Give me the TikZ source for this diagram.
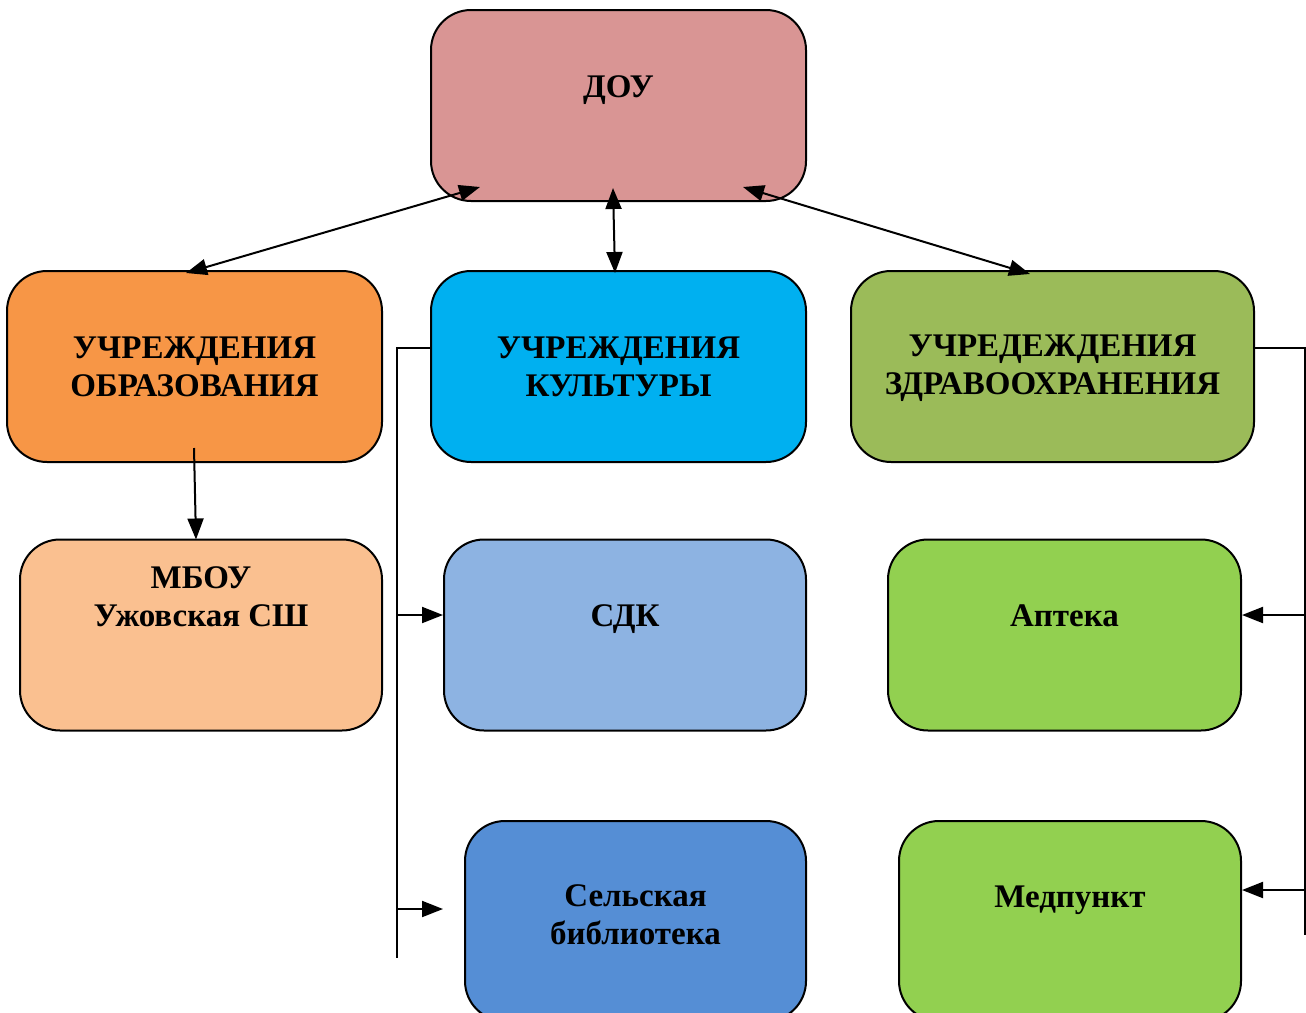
\documentclass[tikz,border=0pt]{standalone}
\usepackage{fontspec}
\setmainfont{Liberation Serif}
\usetikzlibrary{arrows.meta,positioning}
\definecolor{dourose}{HTML}{D99594}
\definecolor{eduorange}{HTML}{F79646}
\definecolor{cultblue}{HTML}{00B0F0}
\definecolor{healthgreen}{HTML}{9BBB59}
\definecolor{schoolpeach}{HTML}{FAC090}
\definecolor{sdkblue}{HTML}{8DB3E2}
\definecolor{libblue}{HTML}{558ED5}
\definecolor{medgreen}{HTML}{92D050}
\tikzset{
    block/.style={
                draw=black,
                line width=1pt,
                rounded corners=20pt,
                inner sep=0pt,
                minimum height=95.5pt
            },
        caption/.style={
                font=\bfseries\fontsize{16.5}{19}\selectfont,
                align=center,
                text=black
            },
        link/.style={
                line width=1pt,
                -{Triangle[length=10.5pt,width=8pt]}
            },
        twolink/.style={
                line width=1pt,
                {Triangle[length=10.5pt,width=8pt]}-{Triangle[length=10.5pt,width=8pt]}
            },
        bus/.style={line width=0.7pt},
}
\begin{document}
\begin{tikzpicture}[x=0.5pt,y=-0.5pt]
  \useasboundingbox (0,0) rectangle (1306,1012);
  % Top
  \node[block,fill=dourose,minimum width=187.5pt,
    label={[caption,yshift=7.5pt]center:ДОУ}] (dou) at (618.5,105.5) {};
  % Groups
  \node[block,fill=eduorange,minimum width=187.5pt,
    label={[caption,yshift=0pt]center:{УЧРЕЖДЕНИЯ\\ОБРАЗОВАНИЯ}}] (obr) at (194.5,366.5) {};
  \node[block,fill=cultblue,minimum width=187.5pt,
    label={[caption,yshift=0pt]center:{УЧРЕЖДЕНИЯ\\КУЛЬТУРЫ}}] (kult) at (618.5,366.5) {};
  \node[block,fill=healthgreen,minimum width=201.5pt,
    label={[caption,yshift=-1pt]center:{УЧРЕДЕЖДЕНИЯ\\ЗДРАВООХРАНЕНИЯ}}] (zdr) at (1052.5,366.5) {};
  % Members
  \node[block,fill=schoolpeach,minimum width=181pt,
    label={[caption,yshift=19pt]center:{МБОУ\\Ужовская СШ}}] (mbou) at (201,635) {};
  \node[block,fill=sdkblue,minimum width=181pt,
    label={[caption,yshift=8pt]center:СДК}] (sdk) at (625,635) {};
  \node[block,fill=medgreen,minimum width=176.5pt,
    label={[caption,yshift=9.5pt]center:Аптека}] (apt) at (1064.5,635) {};
  \node[block,fill=libblue,minimum width=170.5pt,minimum height=100pt,
    label={[caption,yshift=3pt]center:{Сельская\\библиотека}}] (bibl) at (635.5,921) {};
  \node[block,fill=medgreen,minimum width=171pt,minimum height=100pt,
    label={[caption,yshift=10.5pt]center:Медпункт}] (med) at (1070,921) {};
  % Links from the top
  \draw[twolink] ([shift={(-69.25pt,7.5pt)}]dou.south) -- ([shift={(-4.25pt,-1.5pt)}]obr.north);
  \draw[twolink] ([shift={(-2.75pt,7pt)}]dou.south) -- ([shift={(-1.75pt,-1.5pt)}]kult.north);
  \draw[twolink] ([shift={(62.25pt,7.5pt)}]dou.south) -- ([shift={(-11.25pt,-2pt)}]zdr.north);
  \draw[link] ([shift={(-0.25pt,7.5pt)}]obr.south) -- ([shift={(-2.5pt,-0.5pt)}]mbou.north);
  % Left bus
  \coordinate (lbus) at (397,958);
  \draw[bus] ([yshift=9.25pt]kult.west) -| (lbus);
  \draw[link] ([yshift=10pt]sdk.west -| lbus) -- ([yshift=10pt]sdk.west);
  \draw[link] ([yshift=6pt]bibl.west -| lbus) -- ([shift={(-10.5pt,6pt)}]bibl.west);
  % Right bus
  \coordinate (rbus) at (1305,935);
  \draw[bus] ([yshift=9.25pt]zdr.east) -| (rbus);
  \draw[link] ([yshift=10pt]apt.east -| rbus) -- ([yshift=10pt]apt.east);
  \draw[link] ([yshift=15.5pt]med.east -| rbus) -- ([yshift=15.5pt]med.east);
\end{tikzpicture}
\end{document}
